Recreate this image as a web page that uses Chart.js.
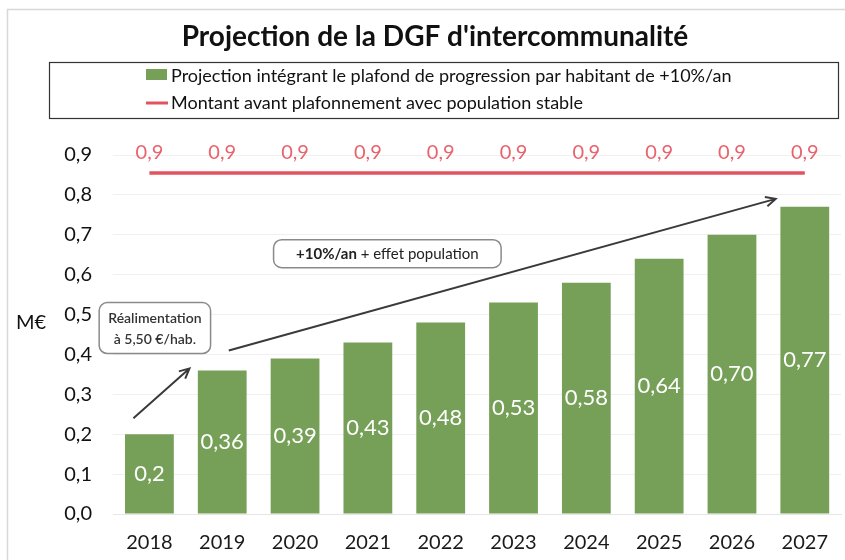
<!DOCTYPE html>
<html lang="fr">
<head>
<meta charset="utf-8">
<title>Projection de la DGF d'intercommunalité</title>
<script src="https://cdn.jsdelivr.net/npm/chart.js@4.4.1/dist/chart.umd.min.js"></script>
<style>
  html, body { margin: 0; padding: 0; background: #fff; overflow: hidden; }
  #wrap { position: relative; width: 845px; height: 560px; }
</style>
</head>
<body>
<div id="wrap"><canvas id="chart" width="845" height="560"></canvas></div>
<script>
// ── Data ──────────────────────────────────────────────────────────────────────
const years = ["2018", "2019", "2020", "2021", "2022", "2023", "2024", "2025", "2026", "2027"];
const projection = [0.2, 0.36, 0.39, 0.43, 0.48, 0.53, 0.58, 0.64, 0.70, 0.77];
const avantPlafond = [0.855, 0.855, 0.855, 0.855, 0.855, 0.855, 0.855, 0.855, 0.855, 0.855];
const yTicks = [0, 0.1, 0.2, 0.3, 0.4, 0.5, 0.6, 0.7, 0.8, 0.9];

const TITLE = "Projection de la DGF d'intercommunalité";
const LABEL_BARS = "Projection intégrant le plafond de progression par habitant de +10%/an";
const LABEL_LINE = "Montant avant plafonnement avec population stable";

const GREEN = "#76a057";
const RED = "#e2535f";
const RED_TEXT = "#e8636d";
const FONT = "Lato, 'Open Sans', sans-serif";

const fmt = (v, d) => v.toFixed(d).replace(".", ",");

// ── Decorations: title, legend, unit, annotation boxes and arrows ────────────
const decor = {
  id: "decor",
  beforeDraw(chart) {
    const ctx = chart.ctx;
    ctx.save();
    // scanned frame
    ctx.strokeStyle = "#d8d8d8";
    ctx.lineWidth = 1.5;
    ctx.beginPath();
    ctx.moveTo(7.5, 560);
    ctx.lineTo(7.5, 9.5);
    ctx.lineTo(845, 9.5);
    ctx.stroke();
    ctx.restore();
  },
  afterDraw(chart) {
    const ctx = chart.ctx;
    const x = chart.scales.x, y = chart.scales.y;
    const step = x.getPixelForValue(1) - x.getPixelForValue(0);
    const px = v => x.getPixelForValue(0) + v * step;
    const py = v => y.getPixelForValue(v);
    ctx.save();

    // title
    ctx.fillStyle = "#111";
    ctx.font = "bold 28px " + FONT;
    ctx.textAlign = "center";
    ctx.textBaseline = "alphabetic";
    ctx.fillText(TITLE, 435, 46);

    // legend box
    ctx.strokeStyle = "#333";
    ctx.lineWidth = 1.2;
    ctx.strokeRect(49.5, 62.5, 789, 56);
    ctx.fillStyle = GREEN;
    ctx.fillRect(146, 69, 21, 11);
    ctx.strokeStyle = RED;
    ctx.lineWidth = 3;
    ctx.beginPath();
    ctx.moveTo(146, 103);
    ctx.lineTo(168, 103);
    ctx.stroke();
    ctx.fillStyle = "#111";
    ctx.font = "18px " + FONT;
    ctx.textAlign = "left";
    ctx.textBaseline = "middle";
    ctx.fillText(LABEL_BARS, 171, 76);
    ctx.fillText(LABEL_LINE, 171, 103);

    // unit
    ctx.font = "20px " + FONT;
    ctx.fillText("M€", 16, py(0.48));

    // annotation boxes
    function box(x0, y0, x1, y1) {
      const l = px(x0), r = px(x1), t = py(y0), b = py(y1), rad = 8;
      ctx.beginPath();
      ctx.roundRect(l, t, r - l, b - t, rad);
      ctx.fillStyle = "#fff";
      ctx.fill();
      ctx.strokeStyle = "#8a8a8a";
      ctx.lineWidth = 1.5;
      ctx.stroke();
      return { cx: (l + r) / 2, cy: (t + b) / 2 };
    }
    function arrow(x0, y0, x1, y1) {
      const ax = px(x0), ay = py(y0), bx = px(x1), by = py(y1);
      const ang = Math.atan2(by - ay, bx - ax), h = 11;
      ctx.strokeStyle = "#3a3a3a";
      ctx.lineWidth = 2;
      ctx.beginPath();
      ctx.moveTo(ax, ay);
      ctx.lineTo(bx, by);
      ctx.moveTo(bx - h * Math.cos(ang - 0.45), by - h * Math.sin(ang - 0.45));
      ctx.lineTo(bx, by);
      ctx.lineTo(bx - h * Math.cos(ang + 0.45), by - h * Math.sin(ang + 0.45));
      ctx.stroke();
    }

    arrow(-0.22, 0.24, 0.55, 0.365);
    arrow(1.09, 0.41, 8.6, 0.79);

    const b1 = box(-0.69, 0.53, 0.84, 0.4025);
    ctx.fillStyle = "#333";
    ctx.font = "600 14px " + FONT;
    ctx.textAlign = "center";
    ctx.fillText("Réalimentation", b1.cx, b1.cy - 10);
    ctx.fillText("à 5,50 €/hab.", b1.cx, b1.cy + 11);

    const b2 = box(1.705, 0.6875, 4.83, 0.6175);
    const partA = "+10%/an", partB = " + effet population";
    ctx.font = "bold 15px " + FONT;
    const wA = ctx.measureText(partA).width;
    ctx.font = "15px " + FONT;
    const wB = ctx.measureText(partB).width;
    const start = b2.cx - (wA + wB) / 2;
    ctx.textAlign = "left";
    ctx.fillStyle = "#222";
    ctx.font = "bold 15px " + FONT;
    ctx.fillText(partA, start, b2.cy);
    ctx.font = "15px " + FONT;
    ctx.fillText(partB, start + wA, b2.cy);

    // value labels
    ctx.textAlign = "center";
    ctx.textBaseline = "middle";
    chart.getDatasetMeta(0).data.forEach((bar, i) => {
      const d = projection[i] === 0.2 ? 1 : 2;
      ctx.fillStyle = "#fff";
      ctx.font = "22px " + FONT;
      ctx.fillText(fmt(projection[i], d), bar.x, (bar.y + bar.base) / 2);
    });
    chart.getDatasetMeta(1).data.forEach((pt, i) => {
      ctx.fillStyle = RED_TEXT;
      ctx.font = "20px " + FONT;
      ctx.fillText(fmt(avantPlafond[i], 1), pt.x, pt.y - 20);
    });
    ctx.restore();
  }
};

// ── Chart ─────────────────────────────────────────────────────────────────────
new Chart(document.getElementById("chart"), {
  data: {
    labels: years,
    datasets: [
      {
        type: "bar",
        label: LABEL_BARS,
        data: projection,
        backgroundColor: GREEN,
        categoryPercentage: 1,
        barPercentage: 0.67,
        order: 2,
      },
      {
        type: "line",
        label: LABEL_LINE,
        data: avantPlafond,
        borderColor: RED,
        borderWidth: 3.5,
        pointRadius: 0,
        tension: 0,
        order: 1,
      },
    ],
  },
  options: {
    responsive: false,
    animation: false,
    events: [],
    layout: { padding: { top: 155, left: 0, right: 0, bottom: 0 } },
    plugins: { legend: { display: false }, title: { display: false }, tooltip: { enabled: false } },
    scales: {
      x: {
        afterFit: s => { s.height = 46; },
        grid: { display: false, drawTicks: false },
        border: { color: "#e6e6e6" },
        ticks: { color: "#1a1a1a", font: { family: FONT, size: 20 }, padding: 17 },
      },
      y: {
        min: 0,
        max: 0.9,
        afterFit: s => { s.width = 113; },
        afterBuildTicks: s => { s.ticks = yTicks.map(v => ({ value: v })); },
        grid: { color: "#f0f0f0", drawTicks: false },
        border: { display: false },
        ticks: {
          color: "#111",
          font: { family: FONT, size: 20 },
          padding: 21,
          callback: v => fmt(v, 1),
        },
      },
    },
  },
  plugins: [decor],
});
</script>
</body>
</html>
